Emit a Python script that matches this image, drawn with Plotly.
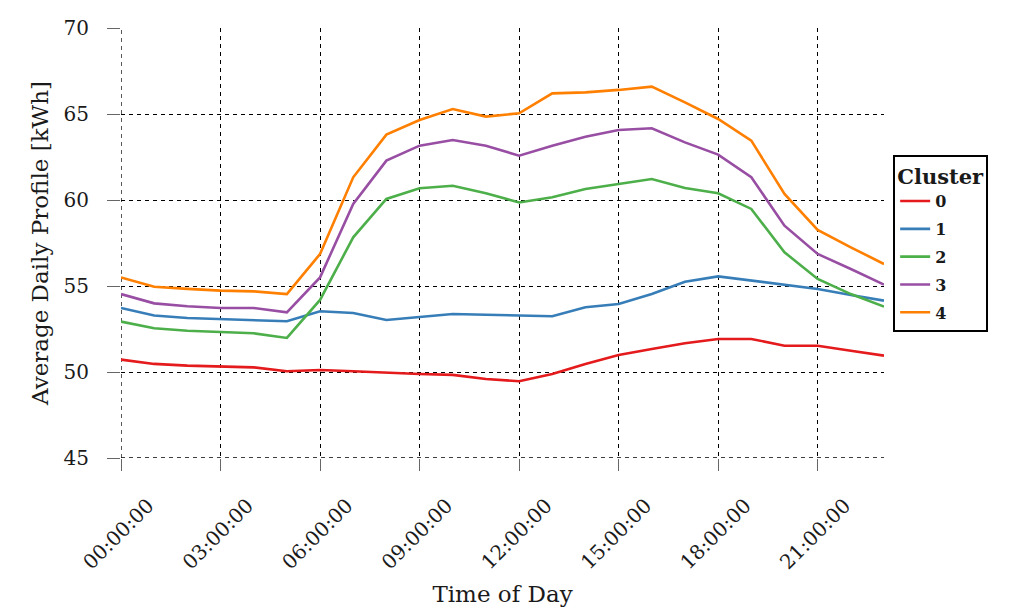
import plotly.graph_objects as go

# Hourly average load profile per cluster
hours = list(range(24))
tick_hours = [0, 3, 6, 9, 12, 15, 18, 21]
tick_labels = ["00:00:00", "03:00:00", "06:00:00", "09:00:00",
               "12:00:00", "15:00:00", "18:00:00", "21:00:00"]
y_ticks = [45, 50, 55, 60, 65, 70]

cluster_0 = [50.72, 50.47, 50.37, 50.31, 50.27, 50.04, 50.12, 50.04, 49.94, 49.88, 49.83, 49.59,
             49.46, 49.88, 50.47, 50.99, 51.34, 51.67, 51.92, 51.92, 51.53, 51.53, 51.24, 50.95]
cluster_1 = [53.72, 53.28, 53.14, 53.08, 53.02, 52.95, 53.53, 53.43, 53.02, 53.18, 53.37, 53.33,
             53.28, 53.24, 53.76, 53.95, 54.53, 55.25, 55.56, 55.31, 55.06, 54.83, 54.48, 54.15]
cluster_2 = [52.93, 52.54, 52.40, 52.31, 52.25, 51.98, 54.19, 57.83, 60.06, 60.68, 60.83, 60.39,
             59.86, 60.16, 60.64, 60.93, 61.22, 60.70, 60.39, 59.48, 56.96, 55.41, 54.53, 53.80]
cluster_3 = [54.53, 53.99, 53.82, 53.72, 53.72, 53.47, 55.50, 59.77, 62.29, 63.16, 63.49, 63.16,
             62.58, 63.16, 63.68, 64.07, 64.17, 63.35, 62.64, 61.32, 58.51, 56.86, 55.99, 55.08]
cluster_4 = [55.50, 54.96, 54.83, 54.73, 54.69, 54.53, 56.86, 61.32, 63.80, 64.65, 65.29, 64.85,
             65.04, 66.20, 66.26, 66.40, 66.59, 65.68, 64.71, 63.45, 60.35, 58.26, 57.25, 56.28]

series = [("0", cluster_0, "#e41a1c"),
          ("1", cluster_1, "#377eb8"),
          ("2", cluster_2, "#4daf4a"),
          ("3", cluster_3, "#984ea3"),
          ("4", cluster_4, "#ff7f00")]

FONT = "DejaVu Serif"
DASH = "4px,4px"

fig = go.Figure()
for name, values, color in series:
    fig.add_trace(go.Scatter(
        x=hours, y=values, mode="lines", name="<b>" + name + "</b>",
        legendgroup=name,
        line=dict(color=color, width=2.6),
    ))

# plotly skips grid lines that sit on the plot edges; draw those two explicitly
fig.add_shape(type="line", xref="x", yref="y", x0=hours[0], x1=hours[0],
              y0=y_ticks[0], y1=y_ticks[-1], line=dict(color="black", width=1.3, dash=DASH),
              layer="below")
fig.add_shape(type="line", xref="x", yref="y", x0=hours[0], x1=hours[-1],
              y0=y_ticks[0], y1=y_ticks[0], line=dict(color="black", width=1.3, dash=DASH),
              layer="below")

axis_common = dict(showgrid=True, gridcolor="black", gridwidth=1.3, griddash=DASH,
                   showline=False, zeroline=False, ticks="outside", automargin=False,
                   tickcolor="#666", tickwidth=1.2, tickfont=dict(size=20, color="#1a1a1a"))

fig.update_layout(
    width=1016, height=612,
    margin=dict(l=121, r=132, t=28, b=154),
    paper_bgcolor="white", plot_bgcolor="white",
    font=dict(family=FONT, size=20, color="#1a1a1a"),
    xaxis=dict(range=[hours[0], hours[-1]], tickvals=tick_hours, ticktext=tick_labels,
               tickangle=-45, ticklen=12, ticklabelshift=27, ticklabelstandoff=15,
               title=dict(text="Time of Day", font=dict(size=23), standoff=12),
               **axis_common),
    yaxis=dict(range=[y_ticks[0], y_ticks[-1]], tickvals=y_ticks, ticklen=13,
               ticklabelstandoff=14,
               title=dict(text="Average Daily Profile [kWh]", font=dict(size=23), standoff=8),
               **axis_common),
    legend=dict(
        title=dict(text="<b>Cluster</b>", font=dict(size=21), side="top center"),
        x=1.012, xanchor="left", y=0.705, yanchor="top",
        bordercolor="black", borderwidth=2, bgcolor="white",
        font=dict(size=16), tracegroupgap=4, entrywidth=82,
    ),
    showlegend=True,
)

fig.write_html("out.html")
